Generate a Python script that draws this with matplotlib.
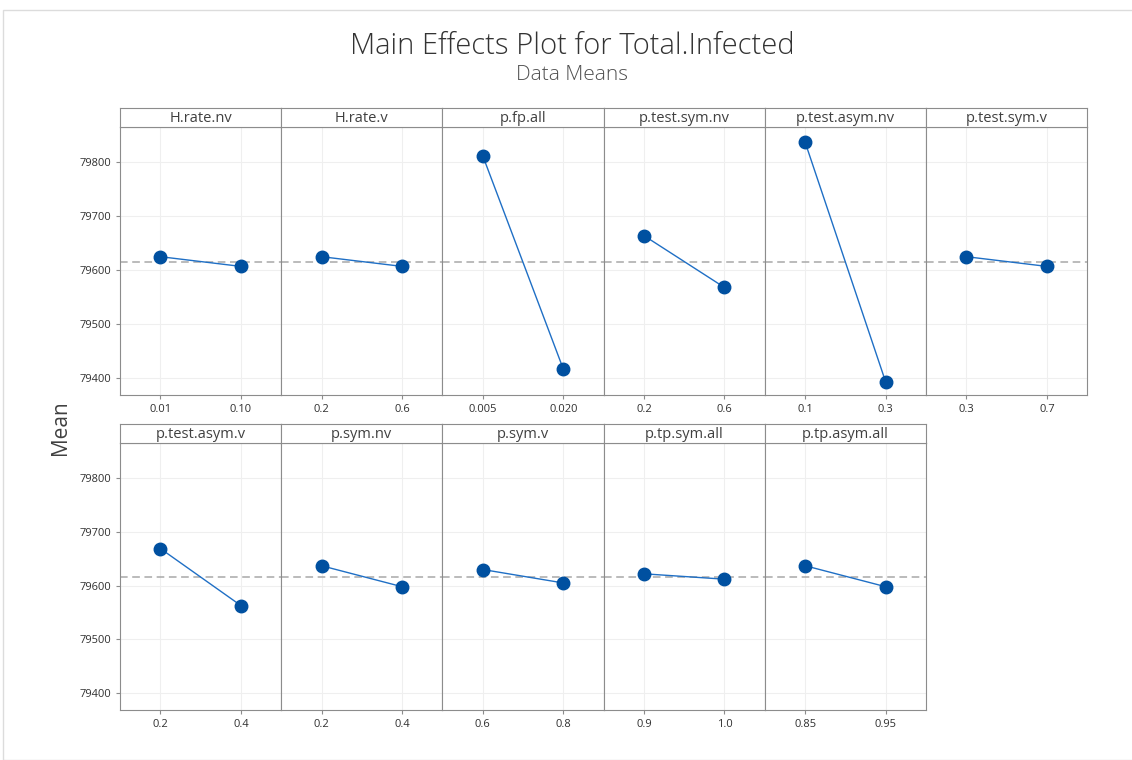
import numpy as np
import matplotlib.pyplot as plt

# factor names, level labels and mean response at each level
factors = ["H.rate.nv", "H.rate.v", "p.fp.all", "p.test.sym.nv", "p.test.asym.nv",
           "p.test.sym.v", "p.test.asym.v", "p.sym.nv", "p.sym.v", "p.tp.sym.all",
           "p.tp.asym.all"]
levels = [["0.01", "0.10"], ["0.2", "0.6"], ["0.005", "0.020"], ["0.2", "0.6"],
          ["0.1", "0.3"], ["0.3", "0.7"], ["0.2", "0.4"], ["0.2", "0.4"],
          ["0.6", "0.8"], ["0.9", "1.0"], ["0.85", "0.95"]]
means = [[79625, 79607], [79625, 79607], [79812, 79417], [79664, 79568],
         [79837, 79393], [79625, 79607], [79669, 79563], [79637, 79598],
         [79630, 79605], [79622, 79612], [79637, 79598]]
grand_mean = 79616
yticks = [79400, 79500, 79600, 79700, 79800]

W, H = 1132, 760
fig = plt.figure(figsize=(W / 100, H / 100), dpi=100)
plt.rcParams['font.family'] = ['Open Sans', 'DejaVu Sans']

# light frame around the whole graph
fig.add_artist(plt.Rectangle((3 / W, 0), 1, 1 - 10 / H, transform=fig.transFigure,
                             fill=False, edgecolor="#dcdcdc", lw=1))

fig.text(572 / W, 1 - 46 / H, "Main Effects Plot for Total.Infected", ha="center",
         va="center", fontsize=21, color="#333333", fontweight="light")
fig.text(572 / W, 1 - 75 / H, "Data Means", ha="center", va="center",
         fontsize=15, color="#505050", fontweight="light")
fig.text(60 / W, 1 - 428 / H, "Mean", rotation=90, ha="center", va="center",
         fontsize=15, color="#404040")

x0, pw = 120, 161.2
rows = [(108, 127, 395), (424, 443, 710)]  # header top, plot top, plot bottom (px)
edge = "#8c8c8c"

for i, name in enumerate(factors):
    r, c = divmod(i, 6)
    htop, ptop, pbot = rows[r]
    left = (x0 + c * pw) / W
    ax = fig.add_axes([left, 1 - pbot / H, pw / W, (pbot - ptop) / H])
    hx = fig.add_axes([left, 1 - ptop / H, pw / W, (ptop - htop) / H])
    hx.set_xticks([])
    hx.set_yticks([])
    for s in hx.spines.values():
        s.set_color(edge)
    hx.text(0.5, 0.45, name, ha="center", va="center", fontsize=10.5, color="#404040",
            transform=hx.transAxes)

    ax.axhline(grand_mean, color="#a8a8a8", lw=1.1, ls=(0, (5, 3)), zorder=1)
    ax.plot([0, 1], means[i], color="#1f6fc5", lw=1, zorder=2)
    ax.plot([0, 1], means[i], "o", color="#0050a0", ms=9, zorder=3)
    ax.set_xlim(-0.5, 1.5)
    ax.set_ylim(79369, 79865)
    ax.set_xticks([0, 1])
    ax.set_xticklabels(levels[i])
    ax.set_yticks(yticks)
    ax.grid(True, color="#efefef", lw=0.8, zorder=0)
    ax.set_axisbelow(True)
    ax.tick_params(axis="both", labelsize=8, colors="#303030", length=3, color=edge)
    if c == 0:
        ax.set_yticklabels([str(v) for v in yticks])
    else:
        ax.tick_params(axis="y", length=0, labelleft=False)
    for s in ax.spines.values():
        s.set_color(edge)

fig.savefig("out.png", dpi=100)
